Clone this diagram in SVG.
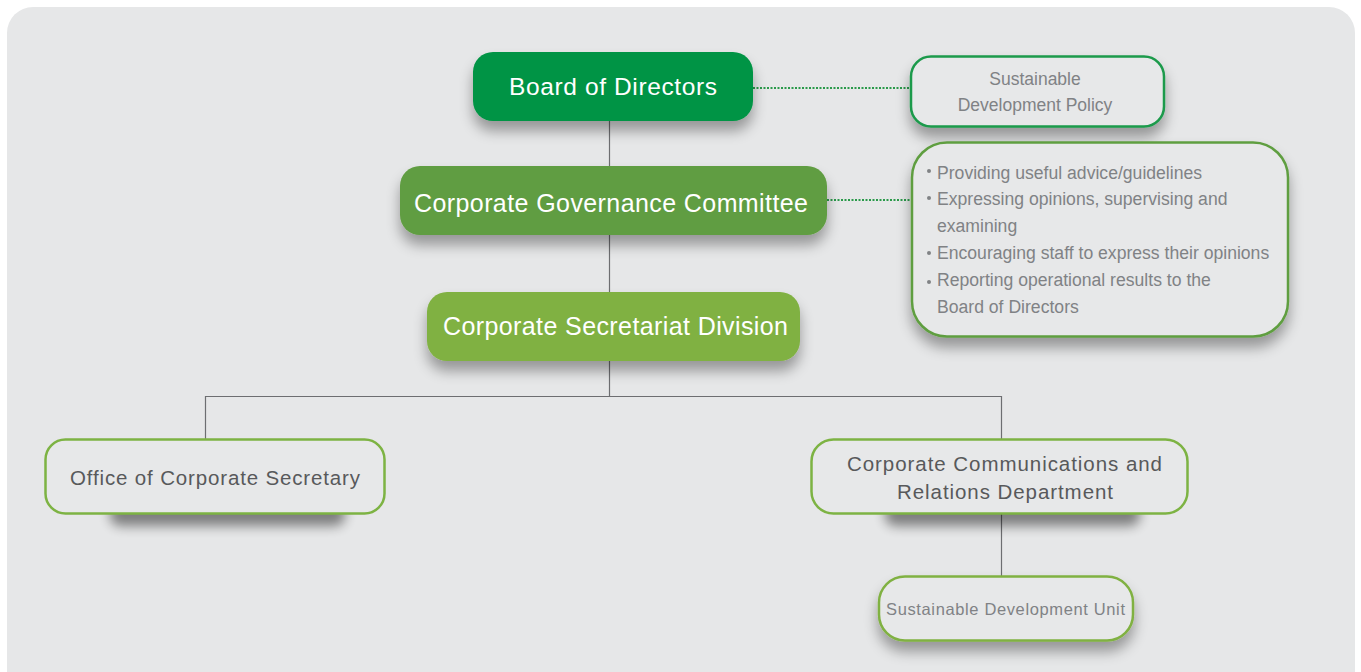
<svg xmlns="http://www.w3.org/2000/svg" width="1361" height="672" viewBox="0 0 1361 672">
<style>
.wt{font-family:"Liberation Sans",Arial,sans-serif;fill:#ffffff;text-anchor:middle}
.gt{font-family:"Liberation Sans",Arial,sans-serif;fill:#58595b;text-anchor:middle}
.lt{font-family:"Liberation Sans",Arial,sans-serif;fill:#808285}
.ob{fill:#e7e8e9;stroke-width:2.5}
.ln{stroke:#6d6e71;stroke-width:1.2;fill:none}
.dt{stroke:#2a9a4a;stroke-width:2;stroke-dasharray:2 1.5;fill:none}
.sd{fill:#000;opacity:0.45}
</style>
<defs>
<filter id="sh" x="-20%" y="-30%" width="140%" height="180%">
<feGaussianBlur in="SourceAlpha" stdDeviation="7"/>
<feOffset dx="0" dy="10" result="b"/>
<feComponentTransfer><feFuncA type="linear" slope="0.35"/></feComponentTransfer>
<feMerge><feMergeNode/><feMergeNode in="SourceGraphic"/></feMerge>
</filter>
<filter id="bl" x="-30%" y="-100%" width="160%" height="300%">
<feGaussianBlur stdDeviation="6"/>
</filter>
</defs>
<rect x="0" y="0" width="1361" height="672" fill="#ffffff"/>
<rect x="7" y="7" width="1348" height="690" rx="26" fill="#e6e7e8"/>
<g id="connectors">
<line class="ln" x1="609.5" y1="121" x2="609.5" y2="166"/>
<line class="ln" x1="609.5" y1="235" x2="609.5" y2="292"/>
<line class="ln" x1="609.5" y1="361" x2="609.5" y2="396"/>
<polyline class="ln" points="205.5,439 205.5,396.5 1001.5,396.5 1001.5,439"/>
<line class="ln" x1="1001.5" y1="514" x2="1001.5" y2="576"/>
<line class="dt" x1="753" y1="88" x2="911" y2="88"/>
<line class="dt" x1="827" y1="200" x2="912" y2="200"/>
</g>
<g id="board">
<rect x="473" y="52" width="280" height="69" rx="20" fill="#009444" filter="url(#sh)"/>
<text class="wt" x="613" y="95" font-size="24.5" textLength="208" lengthAdjust="spacing">Board of Directors</text>
</g>
<g id="policy">
<rect class="ob" x="911" y="56.5" width="253" height="70" rx="20" stroke="#1b9a4b" stroke-width="2" filter="url(#sh)"/>
<text class="lt" x="1035" y="85" font-size="17.5" text-anchor="middle">Sustainable</text>
<text class="lt" x="1035" y="111" font-size="17.5" text-anchor="middle">Development Policy</text>
</g>
<g id="cgc">
<rect x="400" y="166" width="427" height="69" rx="20" fill="#609d42" filter="url(#sh)"/>
<text class="wt" x="611" y="212" font-size="25" textLength="394" lengthAdjust="spacing">Corporate Governance Committee</text>
</g>
<g id="duties">
<rect class="ob" x="912" y="142.5" width="376" height="194" rx="35" stroke="#5f9e40" stroke-width="2" filter="url(#sh)"/>
<g class="lt" font-size="17.6">
<circle cx="929" cy="171" r="2" fill="#808285"/>
<text x="937" y="179">Providing useful advice/guidelines</text>
<circle cx="929" cy="198" r="2" fill="#808285"/>
<text x="937" y="205">Expressing opinions, supervising and</text>
<text x="937" y="232">examining</text>
<circle cx="929" cy="253" r="2" fill="#808285"/>
<text x="937" y="259">Encouraging staff to express their opinions</text>
<circle cx="929" cy="282" r="2" fill="#808285"/>
<text x="937" y="286">Reporting operational results to the</text>
<text x="937" y="313">Board of Directors</text>
</g>
</g>
<g id="csd">
<rect x="427" y="292" width="373" height="69" rx="20" fill="#80b142" filter="url(#sh)"/>
<text class="wt" x="615.5" y="335" font-size="25" textLength="345" lengthAdjust="spacing">Corporate Secretariat Division</text>
</g>
<g id="office">
<rect class="sd" x="110" y="500" width="235" height="26" rx="10" filter="url(#bl)"/>
<rect class="ob" x="45.5" y="439.5" width="339" height="74" rx="20" stroke="#7db343"/>
<text class="gt" x="215" y="485" font-size="20.5" textLength="290" lengthAdjust="spacing">Office of Corporate Secretary</text>
</g>
<g id="ccrd">
<rect class="sd" x="885" y="500" width="255" height="26" rx="10" filter="url(#bl)"/>
<rect class="ob" x="811.5" y="439.5" width="376" height="74" rx="22" stroke="#7db343"/>
<text class="gt" x="1004.5" y="471" font-size="20.5" textLength="315" lengthAdjust="spacing">Corporate Communications and</text>
<text class="gt" x="1005" y="499" font-size="20.5" textLength="216" lengthAdjust="spacing">Relations Department</text>
</g>
<g id="sdu">
<rect class="ob" x="879" y="576.5" width="254" height="64" rx="26" stroke="#80b142" stroke-width="2" filter="url(#sh)"/>
<text class="lt" x="1005.5" y="615" font-size="16.5" text-anchor="middle" fill="#6d6e71" textLength="239" lengthAdjust="spacing">Sustainable Development Unit</text>
</g>
</svg>
